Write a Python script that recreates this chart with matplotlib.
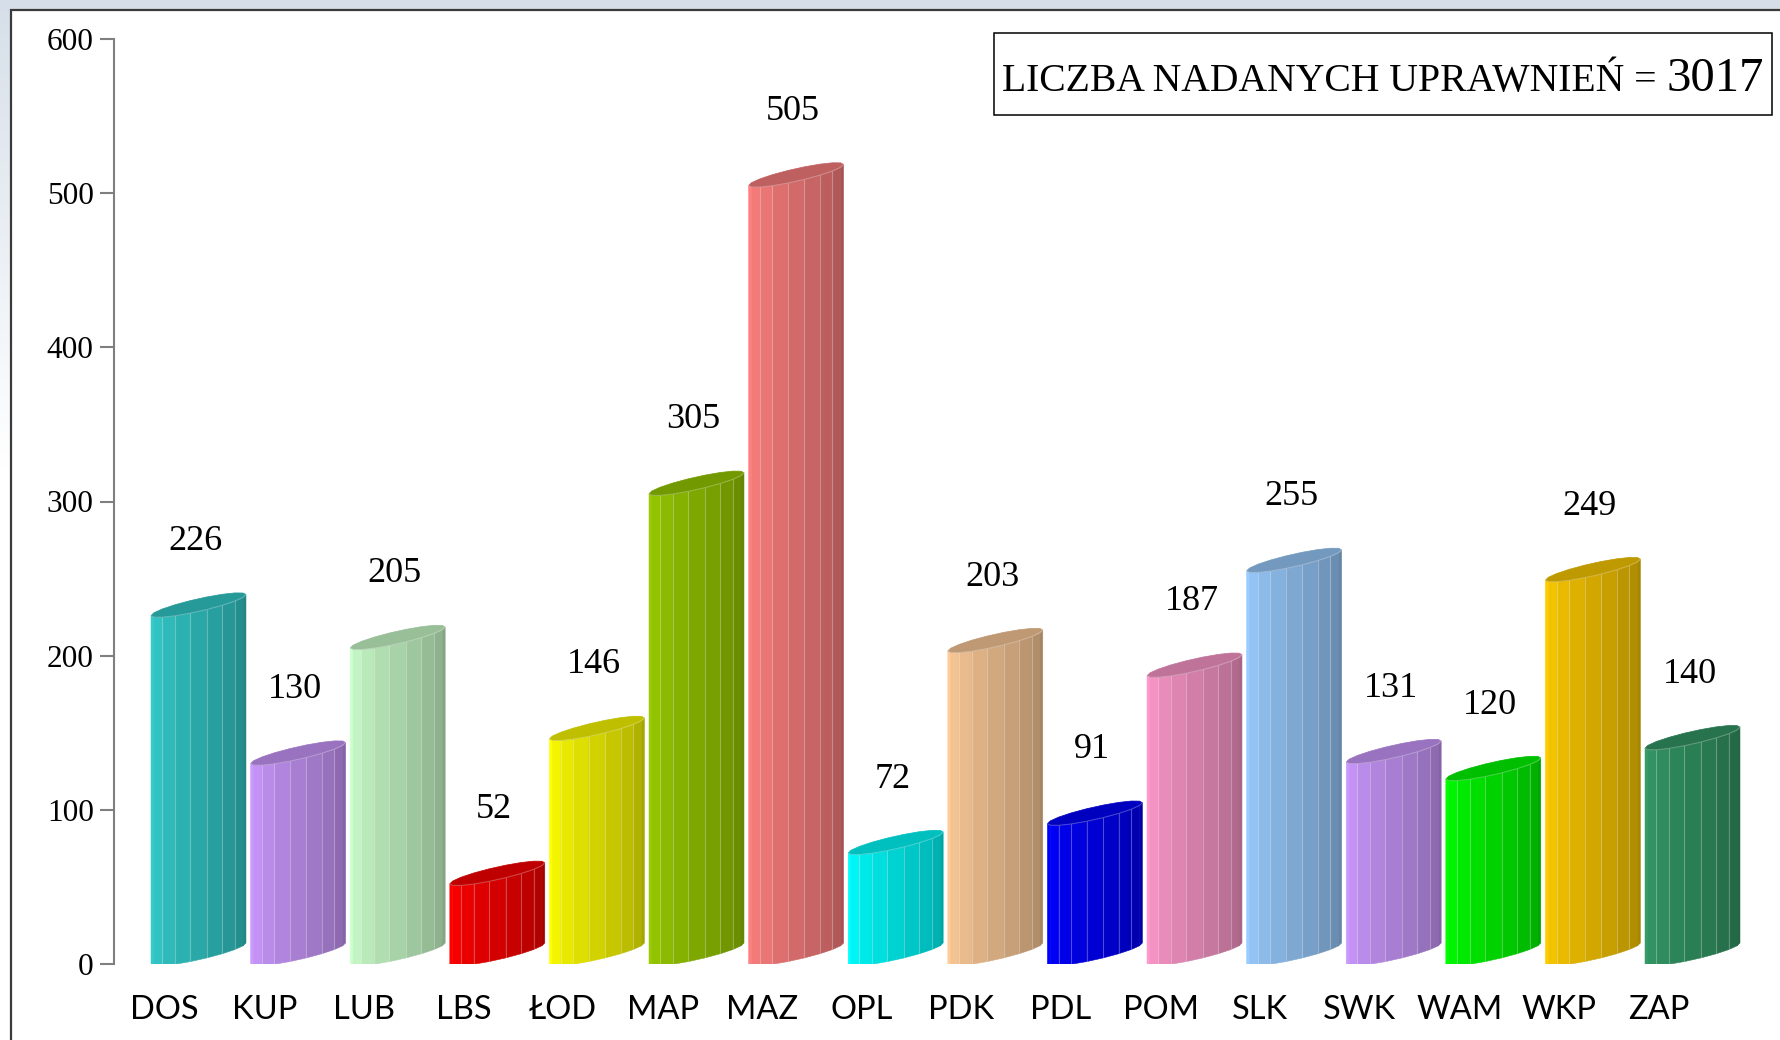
import numpy as np
import matplotlib.pyplot as plt
from matplotlib.patches import Polygon, Rectangle
from matplotlib.colors import to_rgb

categories = ["DOS", "KUP", "LUB", "LBS", "ŁOD", "MAP", "MAZ", "OPL",
              "PDK", "PDL", "POM", "SLK", "SWK", "WAM", "WKP", "ZAP"]
values = [226, 130, 205, 52, 146, 305, 505, 72, 203, 91, 187, 255, 131, 120, 249, 140]
bar_colors = ["#33CCCC", "#CC99FF", "#CCFFCC", "#FF0000", "#FFFF00", "#99CC00",
              "#FF8080", "#00FFFF", "#FFCC99", "#0000FF", "#FF99CC", "#99CCFF",
              "#CC99FF", "#00FF00", "#FFCC00", "#339966"]
yticks = [0, 100, 200, 300, 400, 500, 600]
total_text = "LICZBA NADANYCH UPRAWNIEŃ = "
total = sum(values)

W, H = 1780, 1040
fig = plt.figure(figsize=(W / 100, H / 100), dpi=100)

# light bluish slide background fading to white, then the white chart frame
bg = fig.add_axes([0, 0, 1, 1], zorder=-10)
grad = np.clip(np.linspace(0, 1, 512) / 0.45, 0, 1)[:, None, None]
top = np.array(to_rgb("#d6dfe9"))
col = top[None, None, :] * (1 - grad) + grad
bg.imshow(col, aspect="auto", extent=[0, 1, 0, 1], origin="upper")
bg.axis("off")
fig.patches.append(Rectangle((10.5 / W, -0.05), 1.1, 1 - 9.5 / H + 0.05,
                             transform=fig.transFigure, facecolor="white",
                             edgecolor="#3a3a3a", linewidth=1.6, zorder=-5))

left_px, right_px = 114.5, 1765
y0_px, y600_px = 964, 39
ax = fig.add_axes([left_px / W, (H - y0_px) / H,
                   (right_px - left_px) / W, (y0_px - y600_px) / H])
ax.patch.set_alpha(0)

cat_px0, cat_step = 164.6, 99.6
ax.set_xlim((left_px - cat_px0) / cat_step, (right_px - cat_px0) / cat_step)
ax.set_ylim(0, 600)
sx = cat_step                       # px per x unit
sy = (y0_px - y600_px) / 600.0      # px per value unit

r, p, q = 24.6, 1.65, 0.50
tl = np.pi + np.arctan(p)


def offs(t):
    return r * (np.cos(t) + p * np.sin(t)) / sx, q * r * np.sin(t) / sy


def cylinder(i, h, color):
    base = np.array(to_rgb(color))
    xc = i + (-13.6 + 47.5) / sx
    yc = -offs(tl)[1]
    tf = np.linspace(tl, tl + np.pi, 10)
    X, Y = offs(tf)
    X = X + xc
    Y = Y + yc
    n = len(tf) - 1
    for k in range(n):
        shade = 1.0 - 0.35 * k / (n - 1)
        poly = [(X[k], Y[k]), (X[k + 1], Y[k + 1]),
                (X[k + 1], Y[k + 1] + h), (X[k], Y[k] + h)]
        ax.add_patch(Polygon(poly, closed=True, facecolor=base * shade,
                             edgecolor=base * shade, linewidth=0.4, zorder=2))
    for k in range(2, n - 1):
        ax.plot([X[k], X[k]], [Y[k], Y[k] + h], color="white", alpha=0.28,
                linewidth=0.8, zorder=3)
    tc = tl + np.linspace(0, 2 * np.pi, 19)
    Xc, Yc = offs(tc)
    cap = list(zip(Xc + xc, Yc + yc + h))
    ax.add_patch(Polygon(cap, closed=True, facecolor=base * 0.75,
                         edgecolor=base * 0.75, linewidth=0.5, zorder=4))
    ax.plot(X, Y + h, color="white", alpha=0.25, linewidth=0.8, zorder=5)


for i, (v, c) in enumerate(zip(values, bar_colors)):
    cylinder(i, v, c)
    ax.text(i + 0.31, v + 48, str(v), ha="center", va="center",
            fontsize=26, family="Liberation Serif", color="black")
    ax.text(i, -30, categories[i], ha="center", va="center", fontsize=23.5,
            family="Lato", color="black", clip_on=False)

for s in ["top", "right", "bottom"]:
    ax.spines[s].set_visible(False)
ax.spines["left"].set_color("#7f7f7f")
ax.spines["left"].set_linewidth(1.5)
ax.set_xticks([])
ax.set_yticks(yticks)
ax.set_yticklabels([str(t) for t in yticks], family="Liberation Serif", fontsize=22.5)
ax.tick_params(axis="y", direction="out", length=10, width=1.5, color="#7f7f7f", pad=5)

# total box
box_l, box_t, box_r, box_b = 994, 33, 1772, 115
fig.patches.append(Rectangle((box_l / W, 1 - box_b / H), (box_r - box_l) / W,
                             (box_b - box_t) / H, transform=fig.transFigure,
                             facecolor="white", edgecolor="black", linewidth=1.1))
t1 = fig.text(1002 / W, 1 - 91 / H, total_text, ha="left", va="baseline",
              fontsize=28.5, family="Liberation Serif")
fig.canvas.draw()
ext = t1.get_window_extent()
fig.text(ext.x1 / W, 1 - 91 / H, str(total), ha="left", va="baseline",
         fontsize=35, family="Liberation Serif")

fig.savefig("out.png", dpi=100)
